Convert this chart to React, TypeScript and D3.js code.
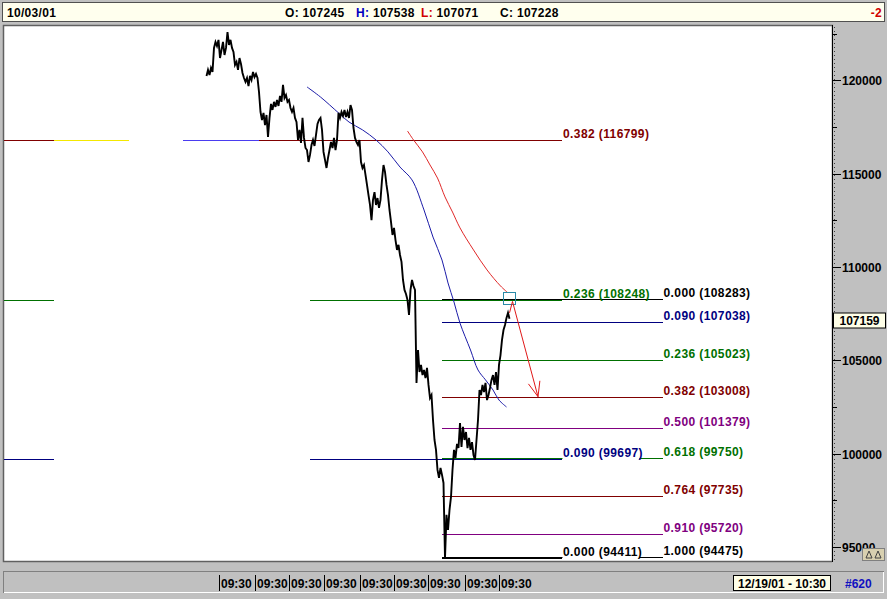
import React from "react";
import * as d3 from "d3";

// ---- data ----
// intraday closes, one per bar
const closes: number[] = [
  120230, 120550, 120280, 120660, 120440, 121730, 122050, 121830, 122160, 121190,
  121620, 122050, 121350, 121730, 122580, 121890, 122160, 121730, 121510, 120820,
  120980, 120550, 121190, 120870, 120390, 120120, 119910, 120120, 119690, 120230,
  120010, 120440, 120170, 120340, 120120, 119370, 118300, 117870, 118250, 117600,
  118140, 116960, 117980, 118730, 118410, 118840, 118570, 118940, 118620, 119160,
  118840, 119750, 119050, 119210, 118840, 118940, 118510, 118300, 118510, 117980,
  117760, 116800, 117340, 116640, 117980, 116910, 116370, 116260, 115620, 116000,
  116530, 116800, 116480, 117070, 117660, 117870, 117980, 117340, 116160, 115730,
  115300, 115840, 116260, 116690, 116370, 116910, 116260, 116800, 118250, 117980,
  118300, 118090, 118410, 118030, 118300, 117980, 118670, 118410, 117440, 116910,
  116690, 116530, 116800, 115620, 115300, 115460, 114930, 114390, 113850, 113320,
  112510, 113590, 114010, 113320, 113690, 113160, 113590, 114660, 115460, 115090,
  114390, 113850, 113050, 112410, 111710, 112090, 111440, 110910, 111180, 110640,
  110270, 109300, 108770, 108550, 108230, 107430, 108770, 109300, 108980, 108770,
  103790, 105550, 104370, 104750, 104210, 104480, 104050, 104590, 103680, 102980,
  103140, 101800, 100730, 100200, 99130, 98700, 99230, 98860, 98430, 94411,
  96720, 95910, 96980, 97680, 99130, 100200, 99770, 100520, 100300, 101640,
  100360, 101430, 100730, 101160, 100300, 100840, 100200, 100620, 99930, 99660,
  100730, 101800, 103410, 103140, 103680, 103300, 103790, 102870, 103140, 103520,
  103950, 104210, 103680, 104370, 103410, 104750, 105280, 106090, 106620, 106890,
  107270, 107540, 107230,
];

// slow moving average (bar index, value)
const maSlowIdx = [67, 76, 88, 95, 104, 113, 121, 129, 137, 145, 151, 157, 161, 165, 169, 176, 181, 186, 191, 195, 200];
const maSlowVal = [119640, 119100, 118250, 117760, 117340, 116800, 116160, 115350, 114660, 113050, 111600, 110370, 109140, 108120, 106990, 105550, 104480, 103950, 103410, 102870, 102500];

// fast moving average (bar index, value)
const maFastIdx = [134, 138, 144, 149, 154, 159, 164, 169, 178, 187, 196, 201];
const maFastVal = [117280, 116800, 116160, 115460, 114760, 113750, 112940, 112090, 110910, 109840, 108980, 108610];

// first retracement set (full decline)
const fibALevels = [0.382, 0.236, 0.09, 0.0];
const fibAPrices = [116799, 108248, 99697, 94411];
const fibAStart = [35, 69, 69, 157];
const fibAEnd = 237;

// second retracement set (rebound swing)
const fibBLevels = [0.0, 0.09, 0.236, 0.382, 0.5, 0.618, 0.764, 0.91, 1.0];
const fibBPrices = [108283, 107038, 105023, 103008, 101379, 99750, 97735, 95720, 94475];
const fibBStart = 157;
const fibBEnd = 304;

// projected path
const projIdx = [202, 204, 221];
const projVal = [107540, 108150, 103050];
const targetIdx = 202;
const targetVal = 108283;

const priceTicks = [95000, 100000, 105000, 110000, 115000, 120000];
const minorTicks = [97500, 102500, 107500, 112500, 117500, 122500];
const sessionStarts = [8, 32, 55, 78, 102, 125, 148, 172, 195];
const sessionLabels = ["09:30", "09:30", "09:30", "09:30", "09:30", "09:30", "09:30", "09:30", "09:30"];

const barDate = "10/03/01";
const ohlcLabels = ["O:", "H:", "L:", "C:"];
const ohlcValues = [107245, 107538, 107071, 107228];
const lastPrice = 107159;
const cursorStamp = "12/19/01 - 10:30";
const barCount = "#620";
const changeText = "-2";

// ---- styling ----
const W = 887;
const H = 599;
const PLOT = { left: 4, right: 832, top: 27, bottom: 561 };
const FONT = "'Liberation Sans', Arial, sans-serif";

const levelColor = (lvl: number) => {
  if (lvl === 0 || lvl === 1) return "#000000";
  if (lvl === 0.09) return "#000080";
  if (lvl === 0.236 || lvl === 0.618) return "#007000";
  if (lvl === 0.382 || lvl === 0.764) return "#800000";
  return "#800080";
};

export default function App() {
  const x = d3.scaleLinear().domain([-135, 417]).range([PLOT.left, PLOT.right]);
  const y = d3.scaleLinear().domain([94250, 122850]).range([PLOT.bottom, PLOT.top]);
  const yc = (v: number) => Math.round(y(v)) + 0.5;

  const priceLine = d3
    .line<number>()
    .x((_, i) => x(i))
    .y((d) => y(d))(closes) as string;

  const maLine = d3
    .line<[number, number]>()
    .x((d) => x(d[0]))
    .y((d) => y(d[1]))
    .curve(d3.curveCatmullRom.alpha(0.5));

  const slowPath = maLine(maSlowIdx.map((d, i) => [d, maSlowVal[i]])) as string;
  const fastPath = maLine(maFastIdx.map((d, i) => [d, maFastVal[i]])) as string;

  const projPts = projIdx.map((d, i) => [x(d), y(projVal[i])] as [number, number]);
  const projPath = d3.line()(projPts) as string;
  const [ax0, ay0] = projPts[projPts.length - 2];
  const [ax1, ay1] = projPts[projPts.length - 1];
  const ang = Math.atan2(ay1 - ay0, ax1 - ax0);
  const wing = 16;
  const spread = 0.38;
  const headPath = `M${ax1 + wing * Math.cos(ang + Math.PI - spread)},${ay1 + wing * Math.sin(ang + Math.PI - spread)}L${ax1},${ay1}L${ax1 + wing * Math.cos(ang + Math.PI + spread)},${ay1 + wing * Math.sin(ang + Math.PI + spread)}`;

  const labelStyle: React.CSSProperties = {
    fontFamily: FONT,
    fontWeight: "bold",
    fontSize: 12,
    letterSpacing: 0.4,
  };

  const fmt = (lvl: number, p: number) => `${lvl.toFixed(3)} (${p})`;

  return (
    <div style={{ position: "fixed", left: 0, top: 0, width: W, height: H }}>
      <svg width={W} height={H} style={{ display: "block" }}>
        {/* window background */}
        <rect x={0} y={0} width={W} height={H} fill="#c0c0c0" />

        {/* header strip */}
        <rect x={2.5} y={2.5} width={882} height={19} fill="#ffffee" stroke="#505050" />
        <g style={{ fontFamily: FONT, fontWeight: "bold", fontSize: 12, letterSpacing: 0.3 }}>
          <text x={7} y={17} fill="#000">{barDate}</text>
          {ohlcLabels.map((lab, i) => {
            const xs = [285, 356, 421, 500][i];
            const col = lab === "H:" ? "#0000c0" : lab === "L:" ? "#d00000" : "#000";
            return (
              <text key={lab} x={xs} y={17}>
                <tspan fill={col}>{lab}</tspan>
                <tspan fill="#000"> {ohlcValues[i]}</tspan>
              </text>
            );
          })}
          <text x={882} y={17} fill="#d00000" textAnchor="end">{changeText}</text>
        </g>

        {/* plot area */}
        <rect
          x={PLOT.left - 0.5}
          y={PLOT.top - 1.5}
          width={PLOT.right - PLOT.left + 1}
          height={PLOT.bottom - PLOT.top + 2}
          fill="#ffffff"
          stroke="#606060"
          strokeWidth={1.5}
        />

        <g shapeRendering="crispEdges">
          {/* side extensions of the first set */}
          <line x1={x(-135)} x2={x(-102)} y1={yc(fibAPrices[0])} y2={yc(fibAPrices[0])} stroke="#800000" />
          <line x1={x(-102)} x2={x(-52)} y1={yc(fibAPrices[0])} y2={yc(fibAPrices[0])} stroke="#f4e800" />
          <line x1={x(-16)} x2={x(35)} y1={yc(fibAPrices[0])} y2={yc(fibAPrices[0])} stroke="#4a3cf0" />
          <line x1={x(-135)} x2={x(-102)} y1={yc(fibAPrices[1])} y2={yc(fibAPrices[1])} stroke="#007000" />
          <line x1={x(-135)} x2={x(-102)} y1={yc(fibAPrices[2])} y2={yc(fibAPrices[2])} stroke="#000080" />

          {/* first set lines */}
          {fibAPrices.map((p, i) => (
            <line
              key={`a${i}`}
              x1={x(fibAStart[i])}
              x2={x(fibAEnd)}
              y1={yc(p)}
              y2={yc(p)}
              stroke={levelColor(fibALevels[i])}
            />
          ))}
          {/* second set lines */}
          {fibBPrices.map((p, i) => (
            <line
              key={`b${i}`}
              x1={x(fibBStart)}
              x2={x(fibBEnd)}
              y1={yc(p)}
              y2={yc(p)}
              stroke={levelColor(fibBLevels[i])}
            />
          ))}
        </g>

        {/* moving averages */}
        <path d={slowPath} fill="none" stroke="#1c1ca8" strokeWidth={1} />
        <path d={fastPath} fill="none" stroke="#e02828" strokeWidth={1} />

        {/* price */}
        <path d={priceLine} fill="none" stroke="#000" strokeWidth={1.9} strokeLinejoin="miter" />

        {/* target box and projection */}
        <rect
          x={Math.round(x(targetIdx)) - 6.5}
          y={Math.round(y(targetVal)) - 6.5}
          width={12}
          height={12}
          fill="none"
          stroke="#2a8aa8"
          strokeWidth={1}
        />
        <path d={projPath} fill="none" stroke="#e01818" strokeWidth={1} />
        <path d={headPath} fill="none" stroke="#e01818" strokeWidth={1} />

        {/* retracement labels */}
        <g style={labelStyle}>
          {fibAPrices.map((p, i) => {
            const t = fmt(fibALevels[i], p);
            const ly = yc(fibAPrices[i]) - 3;
            return (
              <g key={`la${i}`}>
                {i >= 2 && (
                  <rect x={x(fibAEnd) + 0.5} y={ly - 11} width={t.length * 5.9} height={14} fill="#ffffff" />
                )}
                <text x={x(fibAEnd) + 1} y={ly} fill={levelColor(fibALevels[i])}>{t}</text>
              </g>
            );
          })}
          {fibBPrices.map((p, i) => (
            <text key={`lb${i}`} x={x(fibBEnd) + 1} y={yc(p) - 3} fill={levelColor(fibBLevels[i])}>
              {fmt(fibBLevels[i], p)}
            </text>
          ))}
        </g>

        {/* price axis */}
        <rect x={PLOT.right} y={PLOT.top - 2} width={W - PLOT.right} height={PLOT.bottom - PLOT.top + 4} fill="#c0c0c0" />
        <line x1={PLOT.right + 0.5} x2={PLOT.right + 0.5} y1={PLOT.top - 2} y2={PLOT.bottom + 1} stroke="#000" />
        <line
          x1={PLOT.right + 2.5}
          x2={PLOT.right + 2.5}
          y1={PLOT.top}
          y2={PLOT.bottom}
          stroke="#404040"
          strokeDasharray="1 3"
        />
        <g shapeRendering="crispEdges">
          {minorTicks.map((t) => (
            <line key={`m${t}`} x1={PLOT.right + 1} x2={PLOT.right + 5} y1={yc(t)} y2={yc(t)} stroke="#000" />
          ))}
          {priceTicks.map((t) => (
            <line key={`t${t}`} x1={PLOT.right + 1} x2={PLOT.right + 9} y1={yc(t)} y2={yc(t)} stroke="#000" />
          ))}
        </g>
        <g style={{ fontFamily: FONT, fontWeight: "bold", fontSize: 12 }}>
          {priceTicks.map((t) => (
            <text key={`tl${t}`} x={PLOT.right + 10} y={yc(t) + 4.5} fill="#000">{t}</text>
          ))}
          <rect x={PLOT.right + 1.5} y={yc(lastPrice) - 7.5} width={52} height={15} fill="#ffffe8" stroke="#000" />
          <text x={PLOT.right + 27.5} y={yc(lastPrice) + 4.5} textAnchor="middle" fill="#000">{lastPrice}</text>
        </g>
        {/* zoom control */}
        <rect x={862.5} y={548.5} width={22} height={12} fill="#d8d0b0" stroke="#808080" />
        <path d="M866,558 L869,551 L872,558 Z M875,558 L878,551 L881,558 Z" fill="none" stroke="#404040" />

        {/* time strip */}
        <rect x={3.5} y={571.5} width={880} height={21} fill="#c0c0c0" stroke="#808080" />
        <line x1={4} x2={883} y1={592.5} y2={592.5} stroke="#ffffff" />
        <line x1={883.5} x2={883.5} y1={572} y2={593} stroke="#ffffff" />
        <g style={{ fontFamily: FONT, fontWeight: "bold", fontSize: 12 }}>
          {sessionStarts.map((s, i) => (
            <g key={`s${i}`}>
              <line
                x1={Math.round(x(s)) + 0.5}
                x2={Math.round(x(s)) + 0.5}
                y1={575}
                y2={591}
                stroke="#000"
              />
              <text x={Math.round(x(s)) + 2} y={588} fill="#000">{sessionLabels[i]}</text>
            </g>
          ))}
          <rect x={733.5} y={575.5} width={97} height={15} fill="#ffffe8" stroke="#000" />
          <text x={782} y={588} textAnchor="middle" fill="#000">{cursorStamp}</text>
          <text x={845} y={588} fill="#1010c0">{barCount}</text>
        </g>
      </svg>
    </div>
  );
}
